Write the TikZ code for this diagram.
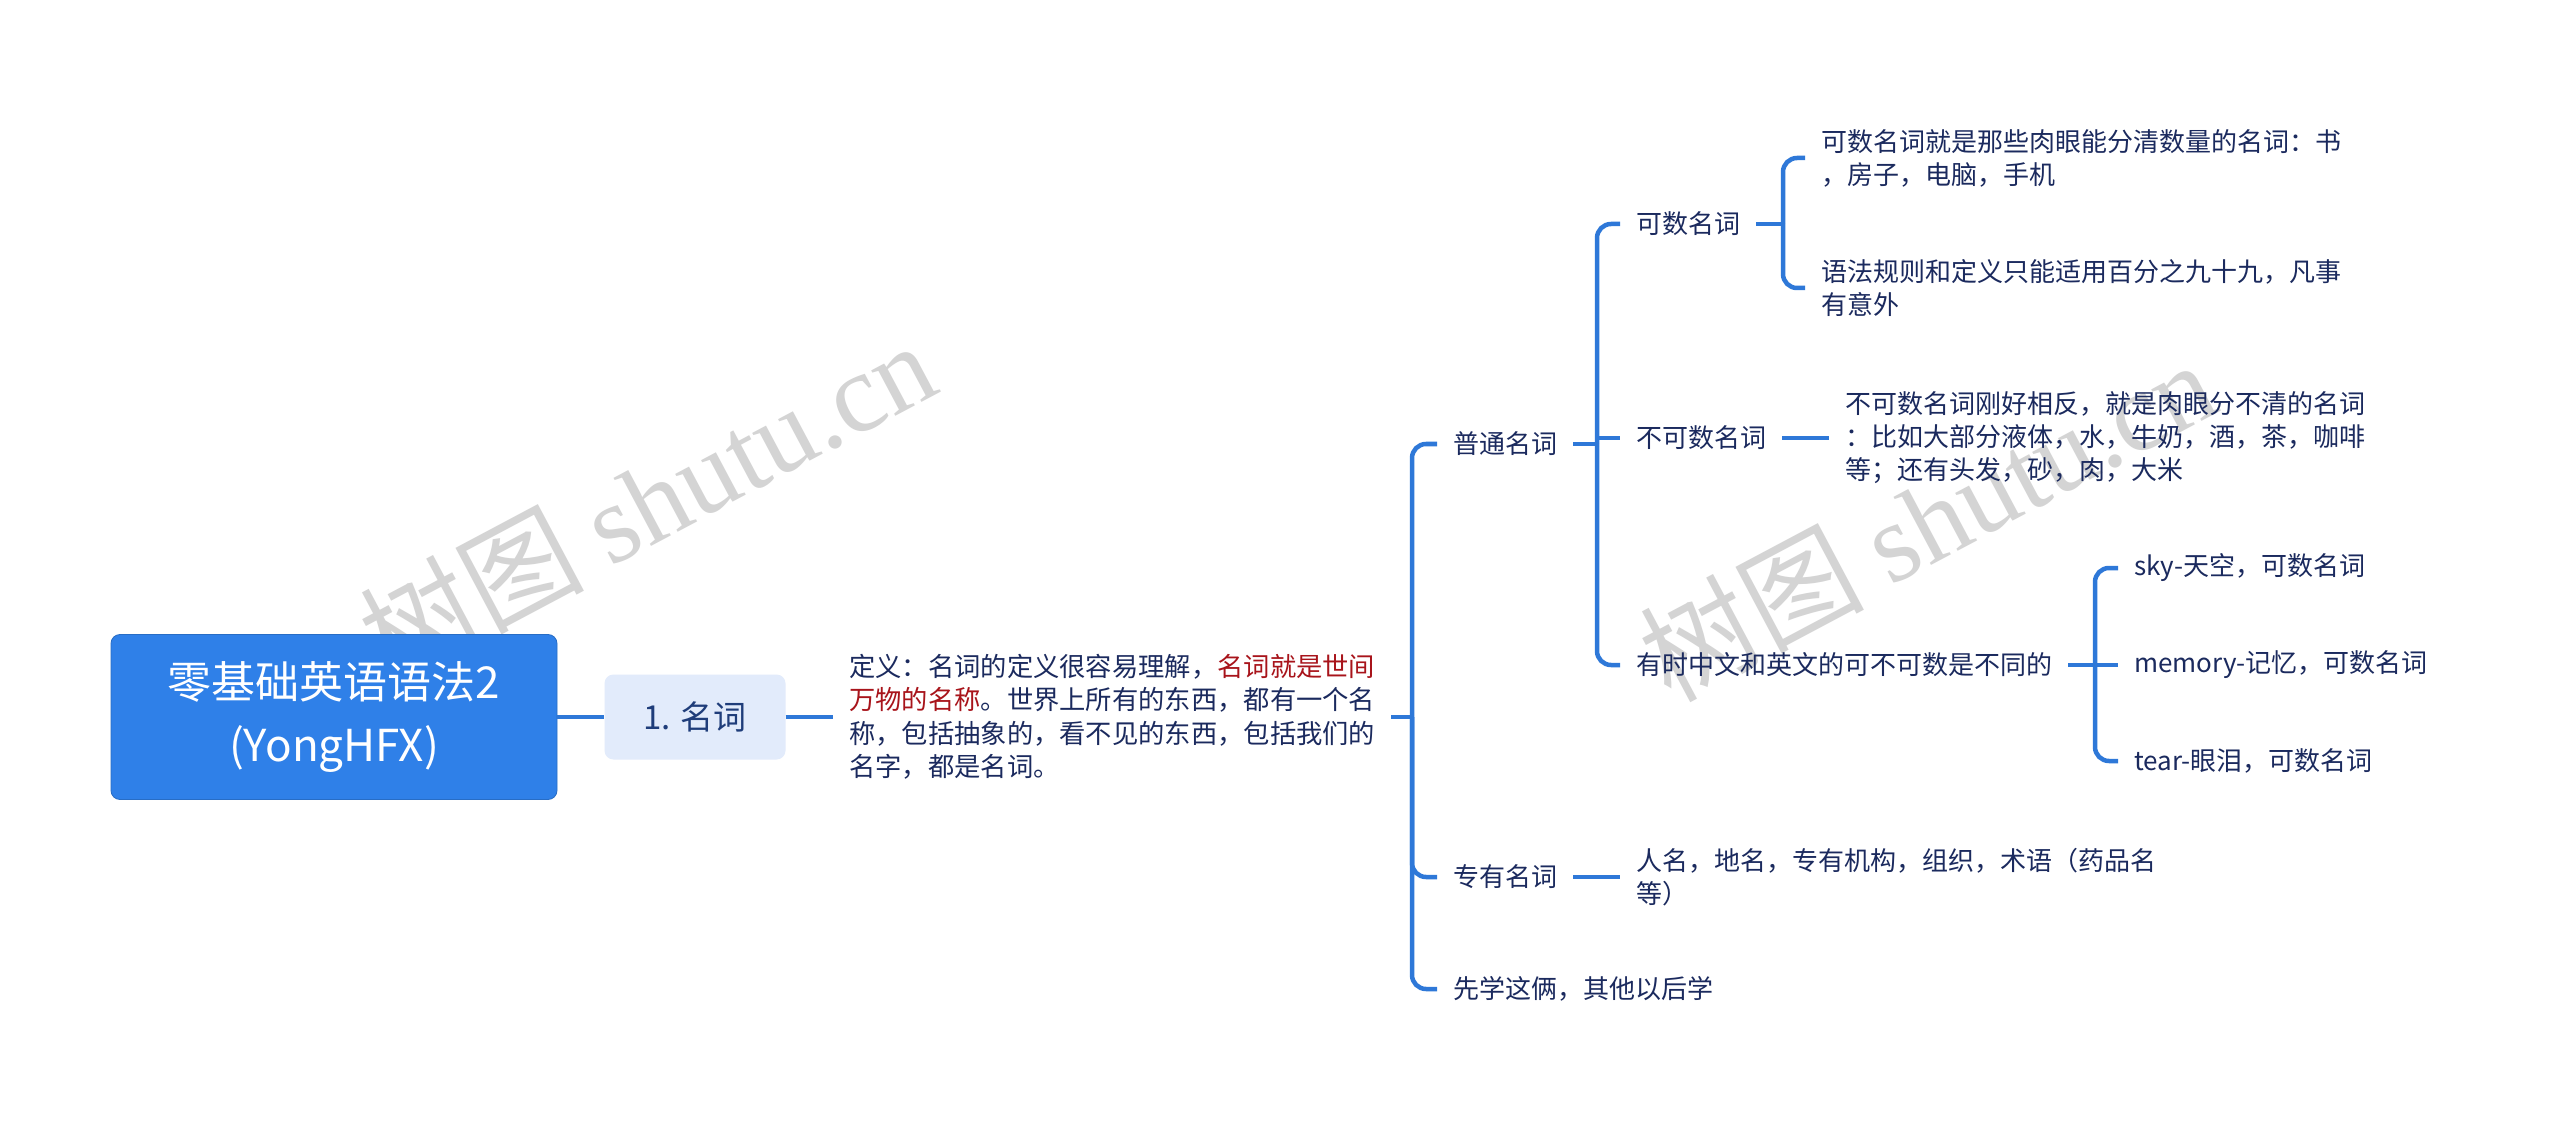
\documentclass[tikz,border=0pt]{standalone}
\usepackage{fontspec}
\setmainfont{Noto Sans CJK SC}
\newfontfamily\wmlat{Liberation Serif}
\definecolor{linec}{HTML}{2E78D8}
\definecolor{navy}{HTML}{1B2A5E}
\definecolor{redc}{HTML}{A8141B}
\definecolor{rootc}{HTML}{2F80E8}
\definecolor{subc}{HTML}{E2EBFB}
\definecolor{subt}{HTML}{1F3D7A}
\definecolor{wm}{HTML}{D4D4D4}
\begin{document}
\begin{tikzpicture}[x=1pt,y=-1pt,
  conn/.style={draw=linec, line width=4.5pt, rounded corners=14pt},
  leaf/.style={anchor=west, inner xsep=16pt, inner ysep=3pt, text=navy,
    font=\fontsize{26}{33}\selectfont, align=left},
  wmark/.style={text=wm, rotate=28, font=\fontsize{112}{130}\selectfont}]
\useasboundingbox[fill=white] (0,0) rectangle (2560,1131);
% watermark
\node[wmark] (wm1) at (647,500) {树图 {\wmlat shutu.cn}};
\node[wmark] (wm2) at (1927,519) {树图 {\wmlat shutu.cn}};
% nodes
\node[fill=rootc, draw=rootc!85!black, line width=0.8pt, rounded corners=9pt,
  minimum width=446pt, minimum height=165pt, text=white, align=center,
  font=\fontsize{44}{63}\selectfont] (root) at (334,717) {零基础英语语法2\\(YongHFX)};
\node[fill=subc, rounded corners=9pt, minimum width=181pt, minimum height=85pt,
  text=subt, font=\fontsize{33}{40}\selectfont] (n1) at (695,717) {1. 名词};
\node[leaf, font=\fontsize{26.3}{33.5}\selectfont] (def) at (833,717)
  {定义：名词的定义很容易理解，\textcolor{redc}{名词就是世间}\\
   \textcolor{redc}{万物的名称}。世界上所有的东西，都有一个名\\
   称，包括抽象的，看不见的东西，包括我们的\\
   名字，都是名词。};
\node[leaf] (pt) at (1437,444) {普通名词};
\node[leaf] (ks) at (1620,224) {可数名词};
\node[leaf] (ks1) at (1805,158) {可数名词就是那些肉眼能分清数量的名词：书\\，房子，电脑，手机};
\node[leaf] (ks2) at (1805,288) {语法规则和定义只能适用百分之九十九，凡事\\有意外};
\node[leaf] (bks) at (1620,438) {不可数名词};
\node[leaf] (bks1) at (1829,438) {不可数名词刚好相反，就是肉眼分不清的名词\\：比如大部分液体，水，牛奶，酒，茶，咖啡\\等；还有头发，砂，肉，大米};
\node[leaf] (ys) at (1620,665) {有时中文和英文的可不可数是不同的};
\node[leaf] (sky) at (2118,568) {sky-天空，可数名词};
\node[leaf] (mem) at (2118,665) {memory-记忆，可数名词};
\node[leaf] (tear) at (2118,761) {tear-眼泪，可数名词};
\node[leaf] (zy) at (1437,877) {专有名词};
\node[leaf] (zy1) at (1620,877) {人名，地名，专有机构，组织，术语（药品名\\等）};
\node[leaf] (xx) at (1437,989) {先学这俩，其他以后学};
% bracket points
\coordinate (b0) at (1412,717);
\coordinate (b1) at (1597,444);
\coordinate (b2) at (1783,224);
\coordinate (b3) at (2095,665);
% connectors
\draw[conn] (root.east) -- (n1.west);
\draw[conn] (n1.east) -- (def.west);
\draw[conn] (def.east) -- (b0);
\draw[conn] (b0) |- (pt.west);
\draw[conn] (b0) |- (zy.west);
\draw[conn] (b0) |- (xx.west);
\draw[conn] (pt.east) -- (b1);
\draw[conn] (b1) |- (ks.west);
\draw[conn] (b1) |- (ys.west);
\draw[conn] (b1 |- bks.west) -- (bks.west);
\draw[conn] (ks.east) -- (b2);
\draw[conn] (b2) |- (ks1.west);
\draw[conn] (b2) |- (ks2.west);
\draw[conn] (bks.east) -- (bks1.west);
\draw[conn] (ys.east) -- (b3);
\draw[conn] (b3) |- (sky.west);
\draw[conn] (b3) |- (tear.west);
\draw[conn] (b3) -- (mem.west);
\draw[conn] (zy.east) -- (zy1.west);
\end{tikzpicture}
\end{document}
